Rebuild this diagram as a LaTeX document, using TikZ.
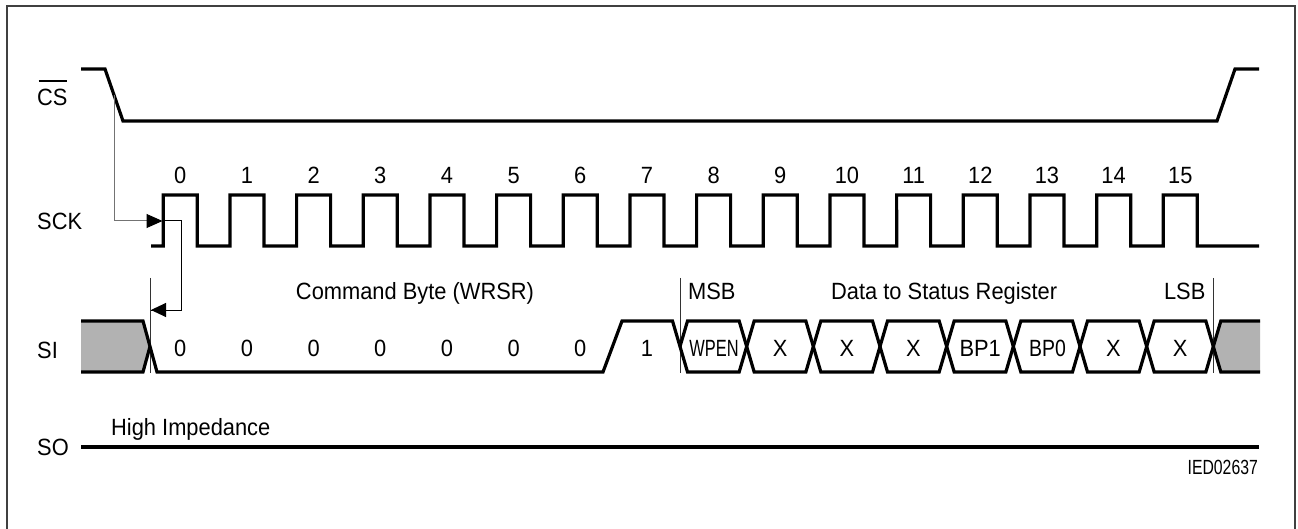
\documentclass[tikz,border=0pt]{standalone}
\usepackage{fontspec}
\setmainfont{Liberation Sans}
\usetikzlibrary{arrows.meta}
\begin{document}
\begin{tikzpicture}[x=1pt,y=-1pt,
  sig/.style={line width=3.2pt, line join=miter, line cap=butt},
  conn/.style={line width=1pt},
  mark line/.style={line width=1pt, draw=black!80},
  lbl/.style={font=\fontsize{23.5}{26}\selectfont, inner sep=0pt, xscale=0.93, anchor=base},
  small/.style={font=\fontsize{20.5}{22}\selectfont, inner sep=0pt, xscale=0.77, anchor=base east},
  tip/.style={-{Triangle[length=16pt,width=14pt,black]}}
]
\useasboundingbox (0,0) rectangle (1298,529);
% frame
\draw[line width=1.6pt, draw=black!75] (7,535) -- (7,6) -- (1295,6) -- (1295,535);

% signal names
\node[lbl, anchor=base west] (csl) at (37,106) {CS};
\draw[line width=1.4pt] (38.5,81) -- (67,81);
\node[lbl, anchor=base west] (sckl) at (37,230) {SCK};
\node[lbl, anchor=base west] (sil) at (37,358) {SI};
\node[lbl, anchor=base west] (sol) at (37,455) {SO};

% CS
\draw[sig] (81,69) -- (105,69) -- (123,121) -- (1217,121) -- (1235,69) -- (1259,69);

% SCK
\draw[sig] (151,246) -- (163.3,246)
  \foreach \k in {0,...,15} { -- ({163.3+66.667*\k},195) -- ({197.3+66.667*\k},195) -- ({197.3+66.667*\k},246) -- ({229.97+66.667*\k},246) }
  -- (1259,246);
\foreach \k in {0,...,15} {
  \node[lbl] (n\k) at ({180.3+66.667*\k},183.5) {\k};
}

% connectors
\coordinate (csedge) at (114,95);
\coordinate (sckedge) at (162.5,221);
\coordinate (sibend) at (181,310);
\coordinate (sistart) at (151,310);
\draw[conn, draw=black!55, tip] (csedge) -- (114,221) -- (sckedge);
\draw[conn] (163,221) -- (181,221) -- (sibend) -- (sistart);
\draw[conn, -{Triangle[length=15pt,width=14pt,black]}] (sibend) -- (sistart);

% SI markers
\draw[mark line] (150,278) -- (150,373);
\draw[mark line] (680,278) -- (680,373);
\draw[mark line] (1213.3,278) -- (1213.3,373);

% SI gray regions
\fill[black!30] (81,321) -- (143,321) -- (150,346.5) -- (143,372) -- (81,372) -- cycle;
\fill[black!30] (1213.3,346.5) -- (1220.8,321) -- (1260,321) -- (1260,372) -- (1220.8,372) -- cycle;

% SI paths
\draw[sig] (81,372) -- (143,372) -- (150,346.5);
\draw[sig] (81,321) -- (143,321) -- (157,372) -- (603,372) -- (622,321) -- (672.5,321)
  \foreach \i in {0,2,4,6} {
    -- ({680+66.667*\i+7.5},372) -- ({680+66.667*(\i+1)-7.5},372)
    -- ({680+66.667*(\i+1)+7.5},321) -- ({680+66.667*(\i+2)-7.5},321) }
  -- (1220.8,372) -- (1260,372);
\draw[sig] (680,346.5)
  \foreach \i in {0,2,4,6} {
    -- ({680+66.667*\i+7.5},321) -- ({680+66.667*(\i+1)-7.5},321)
    -- ({680+66.667*(\i+1)+7.5},372) -- ({680+66.667*(\i+2)-7.5},372) }
  -- (1220.8,321) -- (1260,321);

% SI values
\foreach \k in {0,...,6} {
  \node[lbl] (b\k) at ({180.3+66.667*\k},356) {0};
}
\node[lbl] (b7) at (647,356) {1};
\node[lbl, xscale=0.75] (d8) at (714,356) {WPEN};
\node[lbl] (d9) at (780.2,356) {X};
\node[lbl] (d10) at (846.8,356) {X};
\node[lbl] (d11) at (913.5,356) {X};
\node[lbl] (d12) at (980.2,356) {BP1};
\node[lbl, xscale=0.89] (d13) at (1047.5,356) {BP0};
\node[lbl] (d14) at (1113.5,356) {X};
\node[lbl] (d15) at (1180.2,356) {X};

\node[lbl] (cmd) at (415,300) {Command Byte (WRSR)};
\node[lbl, anchor=base west] (msb) at (688,300) {MSB};
\node[lbl, anchor=base west] (data) at (831,300) {Data to Status Register};
\node[lbl, anchor=base east] (lsb) at (1205.5,300) {LSB};

% SO
\draw[sig] (81,447) -- (1259,447);
\node[lbl, anchor=base west] (hiz) at (111,435) {High Impedance};
\node[small] (ied) at (1258,474) {IED02637};
\end{tikzpicture}
\end{document}
